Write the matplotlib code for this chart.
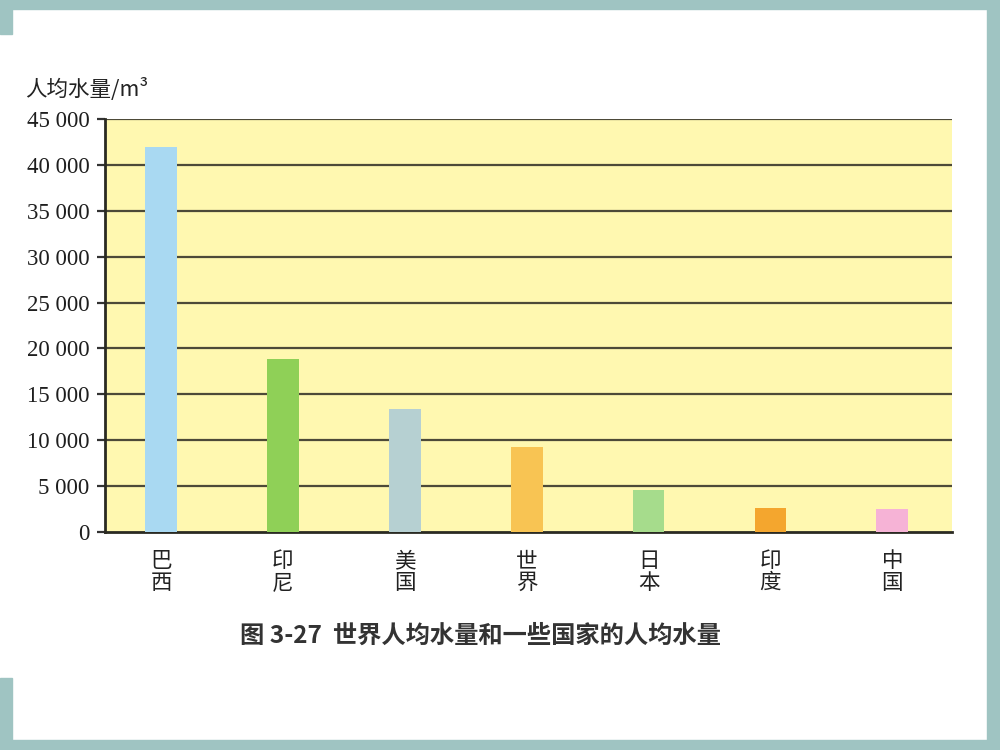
import matplotlib
matplotlib.use("Agg")
import matplotlib.pyplot as plt
from matplotlib.patches import Rectangle

plt.rcParams['font.family'] = ['Liberation Serif', 'Noto Sans CJK SC', 'DejaVu Sans']

# data
countries = ['巴西', '印尼', '美国', '世界', '日本', '印度', '中国']
water = [42000, 18900, 13400, 9250, 4550, 2600, 2500]
bar_colors = ['#a9d9f2', '#8fd057', '#b6d0d2', '#f8c453', '#a6dc8c', '#f4a62e', '#f6b3d6']
yticks = [0, 5000, 10000, 15000, 20000, 25000, 30000, 35000, 40000, 45000]
ytick_labels = ['0', '5 000', '10 000', '15 000', '20 000', '25 000', '30 000',
                '35 000', '40 000', '45 000']

fig = plt.figure(figsize=(10, 7.5), dpi=100)
fig.patch.set_facecolor('white')

# teal slide frame
teal = '#9fc4c2'
fig.patches.append(Rectangle((0, 0.988), 1, 0.012, transform=fig.transFigure, color=teal, zorder=0))
fig.patches.append(Rectangle((0, 0), 1, 0.013, transform=fig.transFigure, color=teal, zorder=0))
fig.patches.append(Rectangle((0.987, 0), 0.013, 1, transform=fig.transFigure, color=teal, zorder=0))
fig.patches.append(Rectangle((0, 0.955), 0.012, 0.045, transform=fig.transFigure, color=teal, zorder=0))
fig.patches.append(Rectangle((0, 0), 0.012, 0.096, transform=fig.transFigure, color=teal, zorder=0))

ax = fig.add_axes([0.105, 0.2907, 0.847, 0.5506])
ax.set_facecolor('#fff8b0')

x = range(len(countries))
ax.bar(x, water, width=0.26, color=bar_colors, zorder=3)

ax.set_xlim(-0.46, 6.49)
ax.set_ylim(0, 45000)
ax.set_yticks(yticks)
ax.set_yticklabels(ytick_labels, fontsize=16.5, color='#1e1e1e')
for y in yticks[1:]:
    ax.axhline(y, color='#4d4a38', lw=1.6, zorder=2)

ax.set_xticks(list(x))
ax.set_xticklabels(['\n'.join(c) for c in countries], fontsize=15.5,
                   family=['Noto Sans CJK SC'], color='#222222', linespacing=1.0)
ax.tick_params(axis='x', length=0, pad=13)
ax.tick_params(axis='y', length=6, width=1.6, direction='out', pad=5, color='#333333')

for s in ['top', 'right']:
    ax.spines[s].set_visible(False)
ax.spines['left'].set_linewidth(2)
ax.spines['bottom'].set_linewidth(2)
ax.spines['left'].set_color('#2a2a22')
ax.spines['bottom'].set_color('#2a2a22')

fig.text(0.025, 0.880, '人均水量/m³', fontsize=15.5, family=['Noto Sans CJK SC', 'DejaVu Sans'],
         color='#222222', ha='left', va='center')

fig.text(0.24, 0.152, '图 3-27  世界人均水量和一些国家的人均水量', fontsize=17.5,
         family=['Noto Sans CJK SC'], fontweight='bold', color='#333333', ha='left', va='center')

fig.savefig('out.png', dpi=100)
